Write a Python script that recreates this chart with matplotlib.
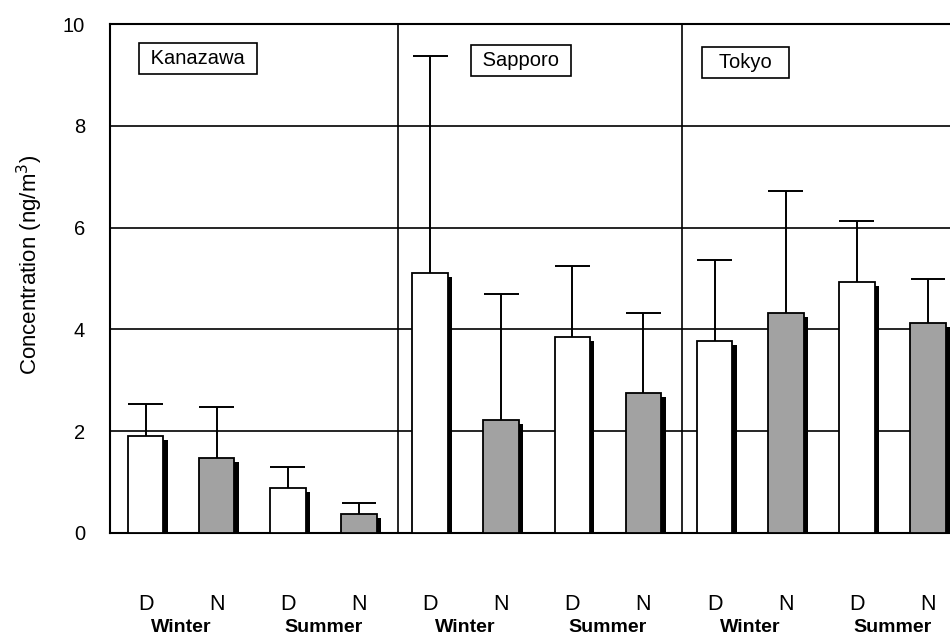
import matplotlib
matplotlib.use("Agg")
import matplotlib.pyplot as plt
import matplotlib.transforms as mtransforms
import numpy as np

plt.rcParams['font.family'] = ['Liberation Sans', 'DejaVu Sans']

# Sampling sites and sub-groups
sites = ["Kanazawa", "Sapporo", "Tokyo"]
seasons = ["Winter", "Summer"]
periods = ["D", "N"]

# Mean concentrations (ng/m3), order per site: Winter D, Winter N, Summer D, Summer N
kanazawa_mean = [1.90, 1.47, 0.89, 0.38]
sapporo_mean = [5.10, 2.22, 3.85, 2.75]
tokyo_mean = [3.77, 4.33, 4.93, 4.12]

# Upper error (standard deviation)
kanazawa_sd = [0.63, 1.00, 0.40, 0.20]
sapporo_sd = [4.28, 2.48, 1.39, 1.57]
tokyo_sd = [1.59, 2.39, 1.20, 0.88]

means = np.array(kanazawa_mean + sapporo_mean + tokyo_mean)
sds = np.array(kanazawa_sd + sapporo_sd + tokyo_sd)
tick_labels = periods * 6
season_labels = seasons * 3

fig = plt.figure(figsize=(9.5, 6.39), dpi=100)
ax = fig.add_axes([0.1158, 0.1659, 0.888, 0.7965])

x = np.arange(len(means))
width = 0.5
fills = ["white" if p == "D" else "#a2a2a2" for p in tick_labels]

# drop shadow on the right of each bar
shadow_dx = 0.06
ax.bar(x + shadow_dx, means - 0.08, width=width, color="black",
       edgecolor="black", linewidth=0, zorder=2)
ax.bar(x, means, width=width, color=fills, edgecolor="black",
       linewidth=1.3, zorder=3)

# upper-only error bars: stem from bar top, cap at mean + sd
tops = means + sds
ax.vlines(x, means, tops, color="black", linewidth=1.4, zorder=2.5)
ax.hlines(tops, x - 0.245, x + 0.245, color="black", linewidth=1.4, zorder=2.5)

ax.set_ylim(0, 10)
ax.set_xlim(-0.5, 11.36)
ax.set_yticks([0, 2, 4, 6, 8, 10])
ax.yaxis.grid(True, color="black", linewidth=1.2)
ax.set_axisbelow(True)

for sx in [3.55, 7.54]:
    ax.axvline(sx, color="black", linewidth=1.2, zorder=1)

for side in ["left", "bottom", "top"]:
    ax.spines[side].set_linewidth(1.5)
ax.spines["right"].set_visible(False)

ax.set_xticks(x)
ax.set_xticklabels(tick_labels, fontsize=15.5)
ax.tick_params(axis="x", length=0, pad=44)
ax.tick_params(axis="y", length=0, pad=18, labelsize=14.5)

ax.set_ylabel("Concentration (ng/m$^3$)", fontsize=16)
ax.yaxis.set_label_coords(-0.077, 0.526)

trans = mtransforms.blended_transform_factory(ax.transData, ax.transAxes)
for i, s in enumerate(season_labels):
    xc = 2 * i + 0.5
    ax.text(xc, -0.185, s, transform=trans, ha="center", va="center",
            fontsize=14, fontweight="bold")

site_pos = [(0.737, 9.33), (5.28, 9.28), (8.44, 9.25)]
site_margin = [" ", " ", "  "]
for name, (sx, sy), m in zip(sites, site_pos, site_margin):
    ax.text(sx, sy, m + name + m, ha="center", va="center",
            fontsize=14.5,
            bbox=dict(boxstyle="square,pad=0.3", facecolor="white",
                      edgecolor="black", linewidth=1.2), zorder=5)

fig.savefig("out.png", dpi=100)
